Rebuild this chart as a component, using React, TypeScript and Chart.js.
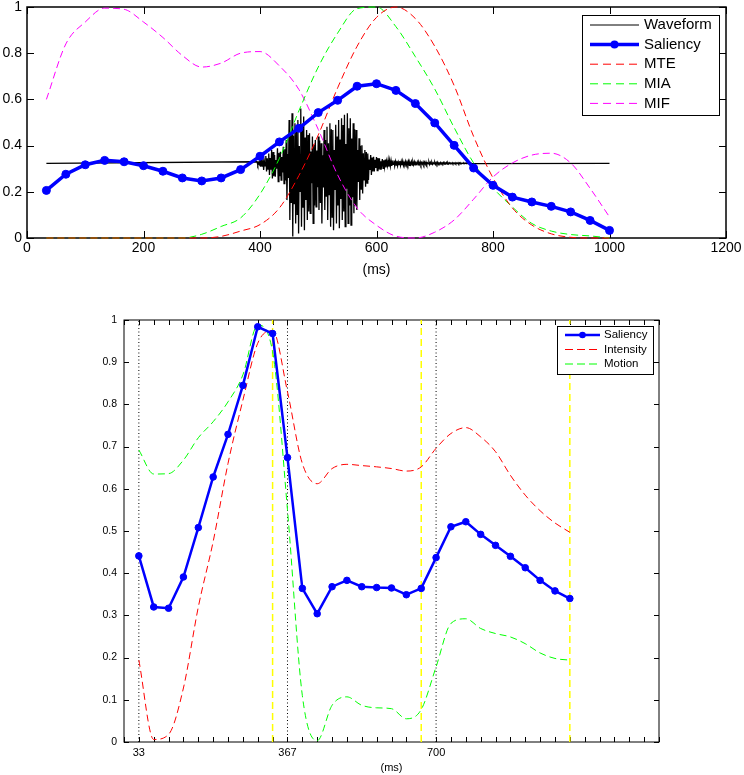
import React, { useEffect, useRef } from 'react';
import { Chart, registerables } from 'chart.js';

Chart.register(...registerables);

const FONT = '"Liberation Sans", Arial, Helvetica, sans-serif';

// ---------- shared frame grid (ms, 30 fps) ----------
const frameTimes = [
  33.3, 66.7, 100, 133.3, 166.7, 200, 233.3, 266.7, 300, 333.3,
  366.7, 400, 433.3, 466.7, 500, 533.3, 566.7, 600, 633.3, 666.7,
  700, 733.3, 766.7, 800, 833.3, 866.7, 900, 933.3, 966.7, 1000,
];

// ---------- top chart data ----------
const topSaliency = [
  0.206, 0.276, 0.317, 0.336, 0.33, 0.313, 0.289, 0.26, 0.247, 0.26,
  0.296, 0.354, 0.416, 0.475, 0.543, 0.596, 0.657, 0.668, 0.639, 0.582,
  0.498, 0.401, 0.303, 0.228, 0.177, 0.156, 0.137, 0.113, 0.076, 0.033,
];
const topMTE = [
  0, 0, 0, 0, 0, 0, 0, 0, 0, 0.007,
  0.03, 0.058, 0.13, 0.27, 0.446, 0.65, 0.83, 0.955, 1.0, 0.95,
  0.83, 0.66, 0.44, 0.26, 0.13, 0.056, 0.018, 0.003, 0, 0,
];
const topMIA = [
  0, 0, 0, 0, 0, 0, 0, 0, 0.016, 0.05,
  0.087, 0.19, 0.345, 0.55, 0.74, 0.887, 0.993, 1.0, 0.915, 0.785,
  0.645, 0.478, 0.325, 0.217, 0.134, 0.063, 0.03, 0.015, 0.009, 0,
];
const topMIF = [
  0.6, 0.84, 0.935, 0.995, 0.99, 0.935, 0.868, 0.79, 0.74, 0.757,
  0.8, 0.807, 0.745, 0.643, 0.47, 0.273, 0.13, 0.055, 0.008, 0,
  0.025, 0.078, 0.168, 0.264, 0.325, 0.359, 0.367, 0.325, 0.215, 0.091,
];

// waveform: flat baseline plus envelope (upper / lower) sampled every 5 ms from 395 ms
const waveBaseline = 0.323;
const waveStart = 33.3;
const waveEnd = 1000;
const waveFirst = 395;
const waveStep = 5;
const waveUpper = [
  0.33, 0.338, 0.345, 0.355, 0.366, 0.381, 0.359, 0.388, 0.373, 0.395,
  0.424, 0.511, 0.54, 0.497, 0.511, 0.561, 0.526, 0.468, 0.453, 0.439,
  0.424, 0.439, 0.41, 0.468, 0.482, 0.497, 0.468, 0.49, 0.511, 0.518,
  0.533, 0.54, 0.518, 0.497, 0.468, 0.432, 0.402, 0.381, 0.366, 0.359,
  0.352, 0.35, 0.345, 0.342, 0.34, 0.338, 0.335, 0.335, 0.334, 0.333,
  0.333, 0.332, 0.332, 0.331, 0.33, 0.33, 0.33, 0.329, 0.329, 0.329,
  0.328, 0.328, 0.328, 0.327, 0.327, 0.327, 0.326, 0.326, 0.326, 0.326,
  0.325, 0.325, 0.324, 0.324,
];
const waveLower = [
  0.316, 0.309, 0.295, 0.288, 0.273, 0.258, 0.265, 0.244, 0.251, 0.236,
  0.164, 0.078, 0.006, 0.063, 0.02, 0.049, 0.034, 0.078, 0.107, 0.063,
  0.135, 0.121, 0.063, 0.121, 0.078, 0.049, 0.034, 0.063, 0.042, 0.078,
  0.049, 0.063, 0.056, 0.107, 0.121, 0.164, 0.193, 0.222, 0.251, 0.273,
  0.288, 0.292, 0.298, 0.302, 0.305, 0.309, 0.312, 0.312, 0.313, 0.314,
  0.314, 0.315, 0.315, 0.316, 0.317, 0.317, 0.317, 0.318, 0.318, 0.318,
  0.319, 0.319, 0.319, 0.32, 0.32, 0.32, 0.321, 0.321, 0.321, 0.321,
  0.322, 0.322, 0.322, 0.322,
];
// second, weaker swing inside each 5 ms sample (fraction of the envelope reached)
const waveInnerSwing = [0.55, 0.85, 0.4, 0.7];

const topXTicks = [0, 200, 400, 600, 800, 1000, 1200];
const topXTickLabels = ['0', '200', '400', '600', '800', '1000', '1200'];
const topYTicks = [0, 0.2, 0.4, 0.6, 0.8, 1];
const topYTickLabels = ['0', '0.2', '0.4', '0.6', '0.8', '1'];
const topLegendLabels = ['Waveform', 'Saliency', 'MTE', 'MIA', 'MIF'];

// ---------- bottom chart data ----------
const botSaliency = [
  0.441, 0.32, 0.317, 0.391, 0.508, 0.628, 0.729, 0.845, 0.984, 0.968,
  0.674, 0.364, 0.304, 0.368, 0.383, 0.368, 0.366, 0.365, 0.349, 0.364,
  0.437, 0.51, 0.522, 0.492, 0.466, 0.44, 0.413, 0.383, 0.358, 0.34,
];
const botIntensity = [
  0.194, 0.006, 0.018, 0.128, 0.32, 0.475, 0.66, 0.81, 0.945, 0.975,
  0.83, 0.66, 0.612, 0.648, 0.658, 0.655, 0.652, 0.648, 0.642, 0.652,
  0.696, 0.731, 0.745, 0.723, 0.688, 0.632, 0.585, 0.548, 0.519, 0.497,
];
const botMotion = [
  0.692, 0.635, 0.636, 0.668, 0.721, 0.759, 0.806, 0.87, 0.988, 0.925,
  0.55, 0.11, 0.003, 0.087, 0.107, 0.087, 0.081, 0.079, 0.055, 0.077,
  0.178, 0.281, 0.292, 0.269, 0.257, 0.249, 0.233, 0.211, 0.198, 0.194,
];
const botBlackLines = [33.3, 366.7, 700];
const botYellowLines = [333.3, 666.7, 1000];

const botXLabelValues = [33.3, 366.7, 700];
const botXTickLabels = ['33', '367', '700'];
const botXFrameCount = 37; // tick marks every frame from 0 to 1200 ms
const botYTicks = [0, 0.1, 0.2, 0.3, 0.4, 0.5, 0.6, 0.7, 0.8, 0.9, 1];
const botYTickLabels = ['0', '0.1', '0.2', '0.3', '0.4', '0.5', '0.6', '0.7', '0.8', '0.9', '1'];
const botLegendLabels = ['Saliency', 'Intensity', 'Motion'];

// ---------- helpers ----------
const BLUE = '#0000ff';
const RED = '#ff0000';
const GREEN = '#00ff00';
const MAGENTA = '#ff00ff';
const YELLOW = '#ffff00';
const DASH = [7, 4];

function pts(xs: number[], ys: number[]) {
  return xs.map((x, i) => ({ x, y: ys[i] }));
}

function labelFor(values: number[], labels: string[], v: number) {
  const idx = values.findIndex((t) => Math.abs(t - v) < 0.05);
  return idx >= 0 ? labels[idx] : '';
}

function verticalLines(xs: number[]) {
  const out: any[] = [];
  xs.forEach((x) => {
    out.push({ x, y: 0 });
    out.push({ x, y: 1 });
    out.push({ x, y: null });
  });
  return out;
}

function framePlugin(tickLen: number, borderWidth: number) {
  return {
    id: 'matlabFrame',
    beforeDatasetsDraw(chart: any) {
      const { ctx, chartArea } = chart;
      const { left, right, top, bottom } = chartArea;
      const xs = chart.scales.x;
      const ys = chart.scales.y;
      ctx.save();
      ctx.strokeStyle = '#000';
      ctx.lineWidth = 1;
      ctx.setLineDash([]);
      ctx.beginPath();
      xs.ticks.forEach((t: any) => {
        const px = Math.round(xs.getPixelForValue(t.value)) + 0.5;
        ctx.moveTo(px, bottom);
        ctx.lineTo(px, bottom - tickLen);
        ctx.moveTo(px, top);
        ctx.lineTo(px, top + tickLen);
      });
      ys.ticks.forEach((t: any) => {
        const py = Math.round(ys.getPixelForValue(t.value)) + 0.5;
        ctx.moveTo(left, py);
        ctx.lineTo(left + tickLen, py);
        ctx.moveTo(right, py);
        ctx.lineTo(right - tickLen, py);
      });
      ctx.stroke();
      ctx.lineWidth = borderWidth;
      ctx.strokeRect(left, top, right - left, bottom - top);
      ctx.restore();
    },
  };
}

type LegendItem = { label: string; color: string; dash: number[]; width: number; marker: number };
type LegendCfg = {
  offsetRight: number; offsetTop: number; w: number; h: number;
  rowStart: number; rowGap: number; lineStart: number; lineEnd: number;
  textX: number; fontSize: number;
};

function legendPlugin(items: LegendItem[], cfg: LegendCfg) {
  return {
    id: 'matlabLegend',
    afterDraw(chart: any) {
      const { ctx, chartArea } = chart;
      const right = chartArea.right - cfg.offsetRight;
      const left = right - cfg.w;
      const top = chartArea.top + cfg.offsetTop;
      ctx.save();
      ctx.setLineDash([]);
      ctx.fillStyle = '#fff';
      ctx.fillRect(left, top, cfg.w, cfg.h);
      ctx.strokeStyle = '#000';
      ctx.lineWidth = 1;
      ctx.strokeRect(Math.round(left) + 0.5, Math.round(top) + 0.5, cfg.w, cfg.h);
      items.forEach((it, i) => {
        const y = top + cfg.rowStart + i * cfg.rowGap;
        ctx.strokeStyle = it.color;
        ctx.lineWidth = it.width;
        ctx.setLineDash(it.dash);
        ctx.beginPath();
        ctx.moveTo(left + cfg.lineStart, y);
        ctx.lineTo(left + cfg.lineEnd, y);
        ctx.stroke();
        if (it.marker > 0) {
          ctx.setLineDash([]);
          ctx.fillStyle = it.color;
          ctx.beginPath();
          ctx.arc(left + (cfg.lineStart + cfg.lineEnd) / 2, y, it.marker, 0, Math.PI * 2);
          ctx.fill();
        }
        ctx.fillStyle = '#000';
        ctx.font = `${cfg.fontSize}px ${FONT}`;
        ctx.textAlign = 'left';
        ctx.textBaseline = 'middle';
        ctx.fillText(it.label, left + cfg.textX, y);
      });
      ctx.restore();
    },
  };
}

function font(size: number) {
  return { family: FONT, size };
}

// ---------- configs ----------
function topConfig(): any {
  const waveData: any[] = [{ x: waveStart, y: waveBaseline }];
  waveUpper.forEach((u, i) => {
    const t = waveFirst + i * waveStep;
    const lo = waveLower[i];
    const s = waveInnerSwing[i % waveInnerSwing.length];
    waveData.push({ x: t, y: u });
    waveData.push({ x: t + 1.25, y: lo });
    waveData.push({ x: t + 2.5, y: waveBaseline + (u - waveBaseline) * s });
    waveData.push({ x: t + 3.75, y: waveBaseline + (lo - waveBaseline) * s });
  });
  waveData.push({ x: waveEnd, y: waveBaseline });

  const dashed = (label: string, color: string, values: number[]) => ({
    label,
    data: pts(frameTimes, values),
    borderColor: color,
    borderWidth: 1,
    borderDash: DASH,
    pointRadius: 0,
    cubicInterpolationMode: 'monotone',
    fill: false,
    clip: false,
  });

  return {
    type: 'line',
    data: {
      datasets: [
        {
          label: 'Saliency',
          data: pts(frameTimes, topSaliency),
          borderColor: BLUE,
          borderWidth: 3.5,
          pointRadius: 4,
          pointBackgroundColor: BLUE,
          pointBorderColor: BLUE,
          pointBorderWidth: 1,
          tension: 0,
          fill: false,
          clip: false,
        },
        dashed('MTE', RED, topMTE),
        dashed('MIA', GREEN, topMIA),
        dashed('MIF', MAGENTA, topMIF),
        {
          label: 'Waveform',
          data: waveData,
          borderColor: '#000',
          borderWidth: 1.3,
          pointRadius: 0,
          tension: 0,
          fill: false,
          clip: false,
        },
      ],
    },
    options: {
      animation: false,
      responsive: false,
      maintainAspectRatio: false,
      events: [],
      layout: { padding: { left: 0, right: 18, top: 7, bottom: 0 } },
      plugins: { legend: { display: false }, tooltip: { enabled: false } },
      scales: {
        x: {
          type: 'linear',
          min: 0,
          max: 1200,
          grid: { display: false, drawTicks: false },
          border: { display: false },
          afterBuildTicks: (s: any) => {
            s.ticks = topXTicks.map((v) => ({ value: v }));
          },
          afterFit: (s: any) => {
            s.height = 42;
            s.paddingLeft = 0;
            s.paddingRight = 0;
          },
          ticks: {
            autoSkip: false,
            maxRotation: 0,
            minRotation: 0,
            padding: 2,
            color: '#000',
            font: font(14),
            callback: (v: number) => labelFor(topXTicks, topXTickLabels, v),
          },
          title: {
            display: true,
            text: '(ms)',
            color: '#000',
            font: font(14),
            padding: { top: 0, bottom: 1.6 },
          },
        },
        y: {
          type: 'linear',
          min: 0,
          max: 1,
          grid: { display: false, drawTicks: false },
          border: { display: false },
          afterBuildTicks: (s: any) => {
            s.ticks = topYTicks.map((v) => ({ value: v }));
          },
          afterFit: (s: any) => {
            s.width = 27;
            s.paddingTop = 0;
            s.paddingBottom = 0;
          },
          ticks: {
            padding: 5,
            color: '#000',
            font: font(14),
            callback: (v: number) => labelFor(topYTicks, topYTickLabels, v),
          },
        },
      },
    },
    plugins: [
      framePlugin(7, 1.5),
      legendPlugin(
        [
          { label: topLegendLabels[0], color: '#000', dash: [], width: 1, marker: 0 },
          { label: topLegendLabels[1], color: BLUE, dash: [], width: 3.5, marker: 4 },
          { label: topLegendLabels[2], color: RED, dash: [8, 5], width: 1, marker: 0 },
          { label: topLegendLabels[3], color: GREEN, dash: [8, 5], width: 1, marker: 0 },
          { label: topLegendLabels[4], color: MAGENTA, dash: [8, 5], width: 1, marker: 0 },
        ],
        {
          offsetRight: 7, offsetTop: 8, w: 137, h: 100,
          rowStart: 10, rowGap: 19.6, lineStart: 8, lineEnd: 57, textX: 62, fontSize: 15,
        }
      ),
    ],
  };
}

function bottomConfig(): any {
  const frameTicks: number[] = [];
  for (let i = 0; i < botXFrameCount; i++) frameTicks.push((i * 1000) / 30);

  const dashed = (label: string, color: string, values: number[]) => ({
    label,
    data: pts(frameTimes, values),
    borderColor: color,
    borderWidth: 1,
    borderDash: DASH,
    pointRadius: 0,
    cubicInterpolationMode: 'monotone',
    fill: false,
    clip: false,
  });

  return {
    type: 'line',
    data: {
      datasets: [
        {
          label: 'Saliency',
          data: pts(frameTimes, botSaliency),
          borderColor: BLUE,
          borderWidth: 2.5,
          pointRadius: 3.3,
          pointBackgroundColor: BLUE,
          pointBorderColor: BLUE,
          pointBorderWidth: 1,
          tension: 0,
          fill: false,
          clip: false,
        },
        dashed('Intensity', RED, botIntensity),
        dashed('Motion', GREEN, botMotion),
        {
          label: 'frames',
          data: verticalLines(botYellowLines),
          borderColor: YELLOW,
          borderWidth: 1.5,
          borderDash: [7, 4],
          pointRadius: 0,
          spanGaps: false,
          tension: 0,
          clip: false,
        },
        {
          label: 'shots',
          data: verticalLines(botBlackLines),
          borderColor: '#000',
          borderWidth: 1,
          borderDash: [1, 2.5],
          pointRadius: 0,
          spanGaps: false,
          tension: 0,
          clip: false,
        },
      ],
    },
    options: {
      animation: false,
      responsive: false,
      maintainAspectRatio: false,
      events: [],
      layout: { padding: { left: 0, right: 85, top: 30, bottom: 0 } },
      plugins: { legend: { display: false }, tooltip: { enabled: false } },
      scales: {
        x: {
          type: 'linear',
          min: 0,
          max: 1200,
          grid: { display: false, drawTicks: false },
          border: { display: false },
          afterBuildTicks: (s: any) => {
            s.ticks = frameTicks.map((v) => ({ value: v }));
          },
          afterFit: (s: any) => {
            s.height = 33;
            s.paddingLeft = 0;
            s.paddingRight = 0;
          },
          ticks: {
            autoSkip: false,
            maxRotation: 0,
            minRotation: 0,
            padding: 4,
            color: '#000',
            font: font(11),
            callback: (v: number) => labelFor(botXLabelValues, botXTickLabels, v),
          },
          title: {
            display: true,
            text: '(ms)',
            color: '#000',
            font: font(11),
            padding: { top: 0, bottom: 0.5 },
          },
        },
        y: {
          type: 'linear',
          min: 0,
          max: 1,
          grid: { display: false, drawTicks: false },
          border: { display: false },
          afterBuildTicks: (s: any) => {
            s.ticks = botYTicks.map((v) => ({ value: v }));
          },
          afterFit: (s: any) => {
            s.width = 124;
            s.paddingTop = 0;
            s.paddingBottom = 0;
          },
          ticks: {
            padding: 7,
            color: '#000',
            font: font(10.5),
            callback: (v: number) => labelFor(botYTicks, botYTickLabels, v),
          },
        },
      },
    },
    plugins: [
      framePlugin(5, 1),
      legendPlugin(
        [
          { label: botLegendLabels[0], color: BLUE, dash: [], width: 2.5, marker: 3.3 },
          { label: botLegendLabels[1], color: RED, dash: [8, 4], width: 1, marker: 0 },
          { label: botLegendLabels[2], color: GREEN, dash: [8, 4], width: 1, marker: 0 },
        ],
        {
          offsetRight: 6, offsetTop: 6, w: 96, h: 48,
          rowStart: 9, rowGap: 14.5, lineStart: 8, lineEnd: 43, textX: 47, fontSize: 11.5,
        }
      ),
    ],
  };
}

export default function App() {
  const topRef = useRef<HTMLCanvasElement>(null);
  const botRef = useRef<HTMLCanvasElement>(null);

  useEffect(() => {
    const c1 = new Chart(topRef.current as HTMLCanvasElement, topConfig());
    const c2 = new Chart(botRef.current as HTMLCanvasElement, bottomConfig());
    return () => {
      c1.destroy();
      c2.destroy();
    };
  }, []);

  return (
    <div style={{ position: 'absolute', left: 0, top: 0, width: 744, height: 775, background: '#fff' }}>
      <canvas
        ref={topRef}
        width={744}
        height={280}
        style={{ position: 'absolute', left: 0, top: 0, width: 744, height: 280 }}
      />
      <canvas
        ref={botRef}
        width={744}
        height={485}
        style={{ position: 'absolute', left: 0, top: 290, width: 744, height: 485 }}
      />
    </div>
  );
}
